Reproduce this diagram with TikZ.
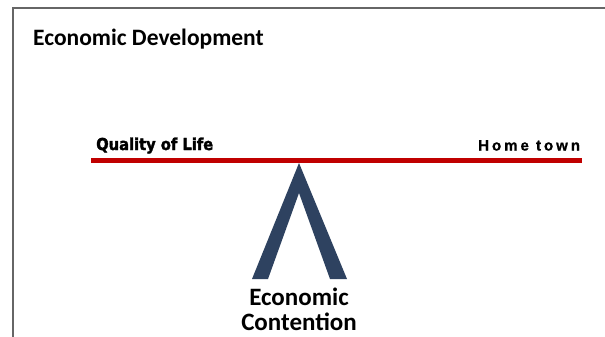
\documentclass[tikz,border=0pt]{standalone}
\usepackage{fontspec}
\setmainfont{Carlito}
\newfontfamily\impactish{DejaVu Sans Condensed Bold}[FakeBold=2]
\newfontfamily\spaced{Liberation Sans Bold}[LetterSpace=20,FakeBold=1]
\definecolor{barred}{HTML}{C00000}
\definecolor{navy}{HTML}{2E4260}
\definecolor{frame}{HTML}{666666}
\begin{document}
\begin{tikzpicture}[x=1pt,y=-1pt,
  lbl/.style={inner sep=0pt, anchor=base west}]
\useasboundingbox (0,0) rectangle (605,337);
\fill[white] (0,0) rectangle (605,337);
\draw[frame, line width=1.5pt] (13,337) -- (13,8) -- (605,8);
\node[lbl, font=\bfseries\fontsize{23.5}{26}\selectfont] (title) at (33,46) {Economic Development};
\coordinate (barL) at (91,160);
\coordinate (barR) at (582,160);
\draw[barred, line width=5pt] (barL) -- (barR);
\node[lbl, font=\impactish\fontsize{12}{14}\selectfont] (qol) at (96,150) {\resizebox{117pt}{12.5pt}{Quality of Life}};
\node[lbl, font=\spaced\fontsize{15}{17}\selectfont] (home) at (478,150.5) {Home town};
\fill[navy] (299,163) -- (347,279) -- (330,279) -- (299,193) -- (268,279) -- (252,279) -- cycle;
\node[inner sep=0pt, align=center, font=\bfseries\fontsize{25}{25}\selectfont, anchor=base] (ec) at (299,330) {Economic\\Contention};
\end{tikzpicture}
\end{document}
